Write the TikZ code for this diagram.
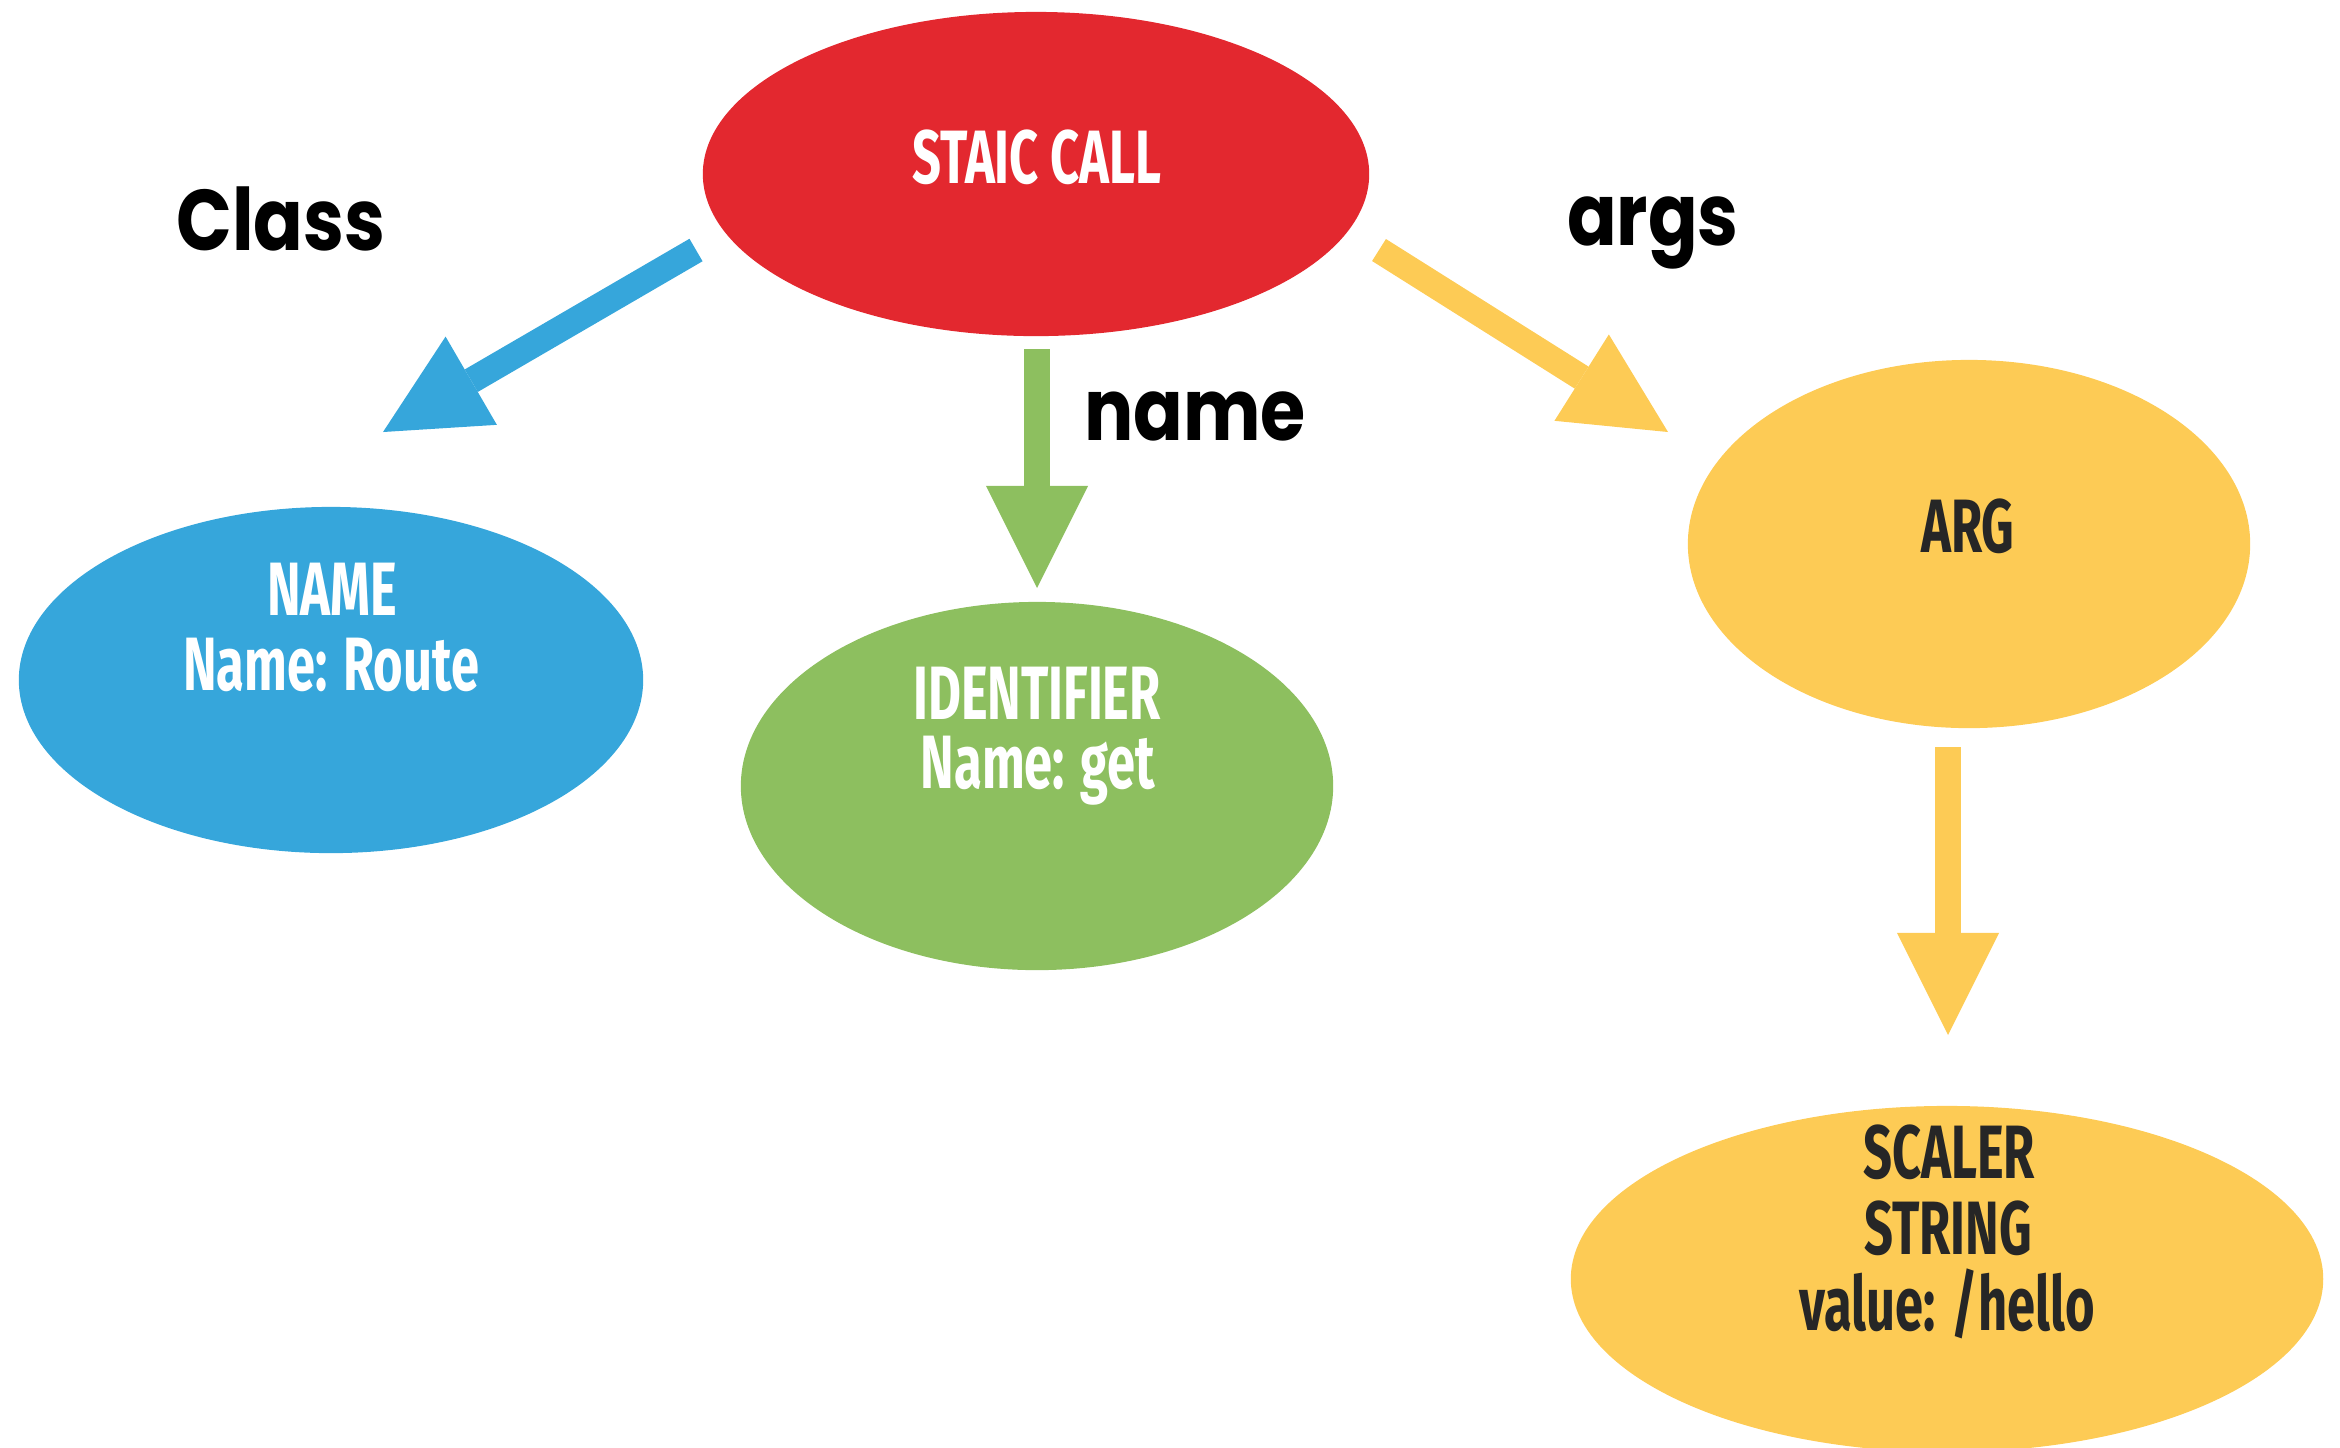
\documentclass[tikz,border=0pt]{standalone}
\usepackage{fontspec}
\usetikzlibrary{shapes.geometric,arrows.meta}
\newfontfamily\dinfont[FakeStretch=0.67]{Fira Sans}
\newfontfamily\lblfont[FakeStretch=0.85]{Poppins}
\definecolor{cred}{HTML}{E3282F}
\definecolor{cblue}{HTML}{36A6DB}
\definecolor{cgreen}{HTML}{8DBF5F}
\definecolor{cyellow}{HTML}{FDCB55}
\definecolor{cdark}{HTML}{262626}
\begin{document}
\begin{tikzpicture}[x=0.01cm,y=-0.01cm,
  blob/.style={ellipse, inner sep=0pt, draw=none},
  ntext/.style={font=\dinfont\bfseries\fontsize{21.5}{21.5}\selectfont, anchor=base, inner sep=0pt},
  lbl/.style={font=\lblfont\bfseries\fontsize{24.5}{24.5}\selectfont, anchor=base, inner sep=0pt},
  blockarrow/.style={line width=0.26cm, -{Triangle[length=1.02cm,width=1.02cm,line width=0pt]}}]
\useasboundingbox (0,0) rectangle (2340,1447);
% ellipses
\node[blob, fill=cred, minimum width=6.66cm, minimum height=3.24cm] (call) at (1036,174) {};
\node[blob, fill=cblue, minimum width=6.24cm, minimum height=3.46cm] (name) at (331,680) {};
\node[blob, fill=cgreen, minimum width=5.92cm, minimum height=3.68cm] (ident) at (1037,786) {};
\node[blob, fill=cyellow, minimum width=5.62cm, minimum height=3.68cm] (arg) at (1969,544) {};
\node[blob, fill=cyellow, minimum width=7.52cm, minimum height=3.46cm] (scaler) at (1947,1279) {};
% node texts
\node[ntext, text=white] (t1) at (1037,183) {STAIC CALL};
\node[ntext, text=white] (t2) at (332,615) {NAME};
\node[ntext, text=white] (t3) at (331,690) {Name: Route};
\node[ntext, text=white] (t4) at (1037,719) {IDENTIFIER};
\node[ntext, text=white] (t5) at (1038,788) {Name: get};
\node[ntext, text=cdark] (t6) at (1968,552) {ARG};
\node[ntext, text=cdark] (t7) at (1949,1178) {SCALER};
\node[ntext, text=cdark] (t8) at (1948,1254) {STRING};
\node[ntext, text=cdark] (t9) at (1947,1330) {value: /hello};
% labels
\node[lbl] (lclass) at (281,250) {Class};
\node[lbl] (lname) at (1195,440) {name};
\node[lbl] (largs) at (1653,245) {args};
% arrows
\coordinate (bs) at (696,250);
\coordinate (be) at (383,432);
\coordinate (gs) at (1037,349);
\coordinate (ge) at (1037,588);
\coordinate (ys) at (1379,250);
\coordinate (ye) at (1668,432);
\coordinate (vs) at (1948,747);
\coordinate (ve) at (1948,1035);
\draw[blockarrow, draw=cblue, fill=cblue] (bs) -- (be);
\draw[blockarrow, draw=cgreen, fill=cgreen] (gs) -- (ge);
\draw[blockarrow, draw=cyellow, fill=cyellow] (ys) -- (ye);
\draw[blockarrow, draw=cyellow, fill=cyellow] (vs) -- (ve);
\end{tikzpicture}
\end{document}
